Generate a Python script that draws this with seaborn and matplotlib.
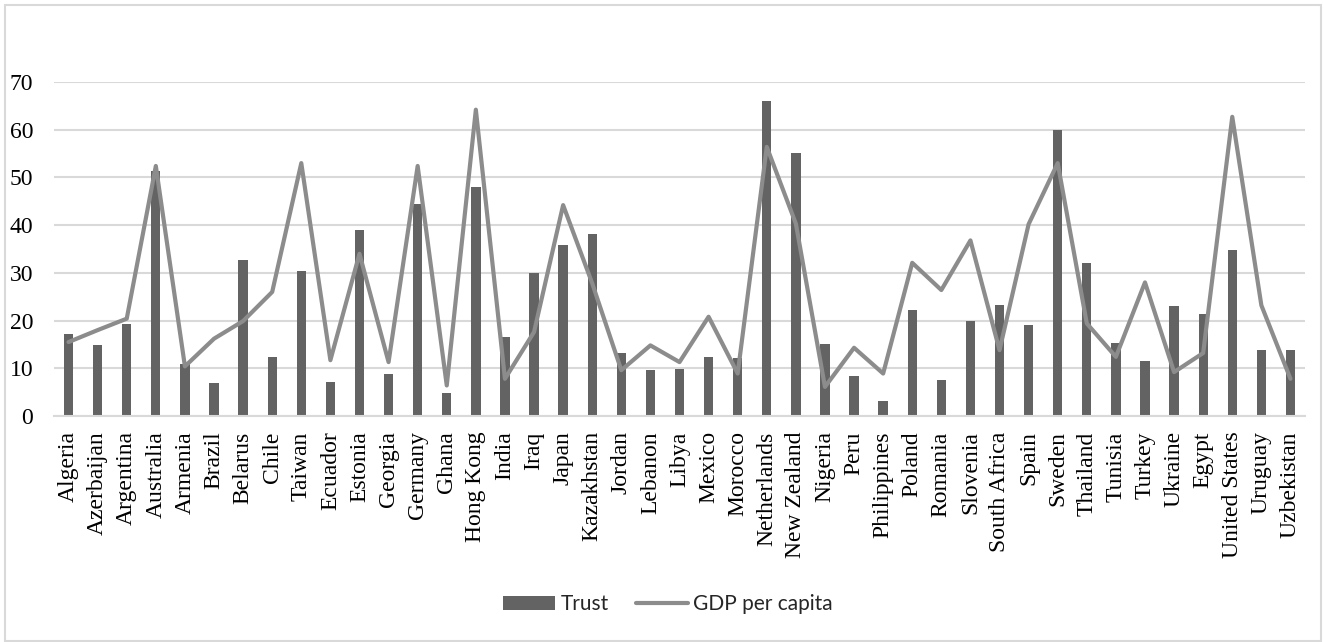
import matplotlib
matplotlib.use("Agg")
import matplotlib.pyplot as plt
import seaborn as sns
import pandas as pd
import numpy as np
from matplotlib.patches import Rectangle, Patch
from matplotlib.lines import Line2D

countries = ["Algeria", "Azerbaijan", "Argentina", "Australia", "Armenia", "Brazil",
             "Belarus", "Chile", "Taiwan", "Ecuador", "Estonia", "Georgia", "Germany",
             "Ghana", "Hong Kong", "India", "Iraq", "Japan", "Kazakhstan", "Jordan",
             "Lebanon", "Libya", "Mexico", "Morocco", "Netherlands", "New Zealand",
             "Nigeria", "Peru", "Philippines", "Poland", "Romania", "Slovenia",
             "South Africa", "Spain", "Sweden", "Thailand", "Tunisia", "Turkey",
             "Ukraine", "Egypt", "United States", "Uruguay", "Uzbekistan"]

trust = [17.1, 14.8, 19.2, 51.4, 10.8, 7.0, 32.6, 12.4, 30.3, 7.1, 38.9, 8.7, 44.5,
         4.9, 47.9, 16.6, 30.0, 35.9, 38.2, 13.1, 9.7, 9.9, 12.4, 12.2, 66.0, 55.2,
         15.0, 8.3, 3.1, 22.2, 7.6, 19.9, 23.2, 19.0, 60.0, 32.1, 15.4, 11.5, 23.0,
         21.4, 34.7, 13.8, 13.8]

gdp = [15.5, 18.0, 20.4, 52.4, 10.4, 16.2, 19.9, 26.0, 53.0, 11.7, 34.0, 11.3, 52.4,
       6.4, 64.2, 7.8, 17.6, 44.2, 27.8, 9.6, 14.8, 11.3, 20.8, 8.9, 56.4, 40.3,
       6.1, 14.3, 8.9, 32.1, 26.4, 36.8, 13.8, 40.2, 53.0, 19.4, 12.4, 28.0, 9.2,
       13.2, 62.7, 23.2, 7.8]

y_ticks = [0, 10, 20, 30, 40, 50, 60, 70]

df = pd.DataFrame({"country": countries, "Trust": trust, "GDP per capita": gdp})

bar_color = "#636363"
line_color = "#8c8c8c"
grid_color = "#d9d9d9"

sns.set_theme(style="white")
plt.rcParams["font.family"] = ["Liberation Serif", "DejaVu Serif"]

fig = plt.figure(figsize=(13.24, 6.42), dpi=100)
ax = fig.add_axes([54 / 1324, 1 - 416 / 642, (1305 - 54) / 1324, (416 - 82) / 642])

sns.barplot(data=df, x="country", y="Trust", color=bar_color, width=0.32,
            saturation=1, linewidth=0, ax=ax, zorder=2)
sns.lineplot(data=df, x="country", y="GDP per capita", sort=False, color=line_color,
             linewidth=3, ax=ax, zorder=3)

ax.set_ylim(0, 70)
ax.set_xlim(-0.5, len(countries) - 0.5)
ax.set_yticks(y_ticks)
ax.set_yticklabels([str(t) for t in y_ticks])
ax.yaxis.grid(True, color=grid_color, linewidth=1.5, zorder=0)
ax.xaxis.grid(False)
ax.set_axisbelow(True)
for s in ["top", "right", "left"]:
    ax.spines[s].set_visible(False)
ax.spines["bottom"].set_color(grid_color)
ax.spines["bottom"].set_linewidth(1.5)
ax.set_xlabel("")
ax.set_ylabel("")
ax.tick_params(axis="y", length=0, pad=15, labelsize=17, labelcolor="#000000")
ax.tick_params(axis="x", length=0, pad=11, labelsize=17, labelcolor="#000000",
               rotation=90)
for lbl in ax.get_xticklabels():
    lbl.set_fontfamily(["Liberation Serif"])
for lbl in ax.get_yticklabels():
    lbl.set_fontfamily(["Liberation Serif"])

handles = [Patch(facecolor=bar_color, edgecolor="none"),
           Line2D([0], [0], color=line_color, linewidth=3)]
leg = fig.legend(handles, ["Trust", "GDP per capita"], loc="center",
                 bbox_to_anchor=(668 / 1324, 1 - 604 / 642), ncol=2, frameon=False,
                 prop={"family": "Lato", "size": 15}, handlelength=2.5,
                 handleheight=0.65, handletextpad=0.25, columnspacing=1.3)

fig.patches.append(Rectangle((5 / 1324, 1 / 642), 1316 / 1324, 636 / 642,
                             transform=fig.transFigure, fill=False,
                             edgecolor=grid_color, linewidth=1.5))

fig.savefig("out.png", dpi=100, facecolor="white")
